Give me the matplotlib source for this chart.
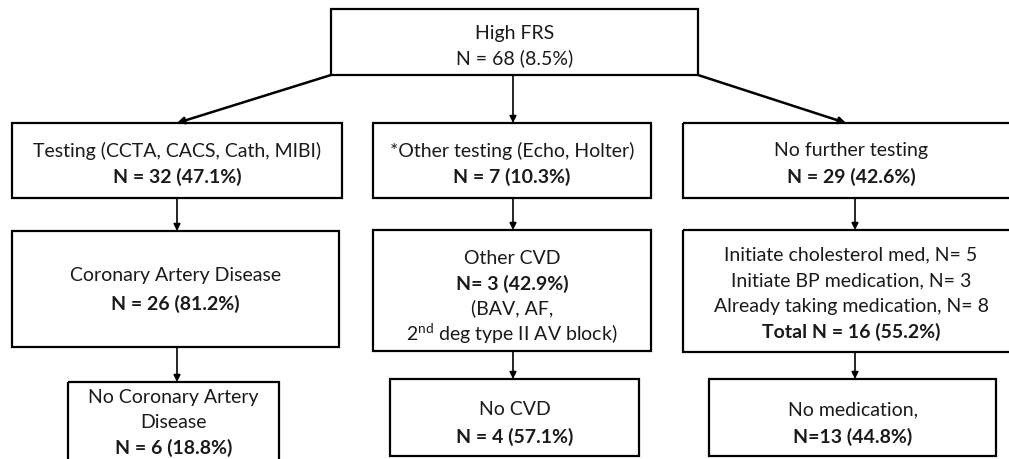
import matplotlib.pyplot as plt
from matplotlib.patches import Rectangle

plt.rcParams['font.family'] = ['Lato', 'DejaVu Sans']
plt.rcParams['mathtext.fontset'] = 'custom'
plt.rcParams['mathtext.rm'] = 'Lato'
plt.rcParams['mathtext.bf'] = 'Lato:bold'

# Box contents: each line is (text, bold)
top_lines = [("High FRS", False), ("N = 68 (8.5%)", False)]

tier2_lines = [
    [("Testing (CCTA, CACS, Cath, MIBI)", False), ("N = 32 (47.1%)", True)],
    [("*Other testing (Echo, Holter)", False), ("N = 7 (10.3%)", True)],
    [("No further testing", False), ("N = 29 (42.6%)", True)],
]

tier3_lines = [
    [("Coronary Artery Disease", False), ("N = 26 (81.2%)", True)],
    [("Other CVD", False), ("N= 3 (42.9%)", True), ("(BAV, AF,", False),
     ("2$^{\\mathrm{nd}}$ deg type II AV block)", False)],
    [("Initiate cholesterol med, N= 5", False), ("Initiate BP medication, N= 3", False),
     ("Already taking medication, N= 8", False), ("Total N = 16 (55.2%)", True)],
]

tier4_lines = [
    [("No Coronary Artery", False), ("Disease", False), ("N = 6 (18.8%)", True)],
    [("No CVD", False), ("N = 4 (57.1%)", True)],
    [("No medication,", False), ("N=13 (44.8%)", True)],
]

# Layout in pixel coordinates (x0, x1, y0, y1, text centre y, line spacing)
top_box = (331, 698, 10, 76, 45.5, 25)
tier2_boxes = [(12, 342, 124, 199, 164, 26),
               (373, 651, 124, 199, 164, 26),
               (683, 1019, 124, 199, 164, 26)]
tier3_boxes = [(12, 339, 232, 348, 290, 28),
               (373, 651, 231, 352, 296, 25),
               (683, 1019, 231, 353, 293.5, 25.7)]
tier4_boxes = [(68, 279, 383, 475, 423, 25),
               (390, 639, 380, 457, 423.5, 27),
               (709, 996, 380, 457, 423.5, 27)]
arrow_x = [177, 513, 855]

fig = plt.figure(figsize=(10.09, 4.6), dpi=100)
ax = fig.add_axes([0, 0, 1, 1])
ax.set_xlim(0, 1009)
ax.set_ylim(460, 0)
ax.axis('off')


def draw_box(box, lines):
    x0, x1, y0, y1, yc, sp = box
    ax.add_patch(Rectangle((x0, y0), x1 - x0, y1 - y0, fill=False,
                           edgecolor='black', lw=1.6))
    n = len(lines)
    for i, (txt, bold) in enumerate(lines):
        y = yc + (i - (n - 1) / 2) * sp
        ax.text((x0 + x1) / 2, y, txt, ha='center', va='center', fontsize=14,
                fontweight='bold' if bold else 'normal', color='#1a1a1a')


def arrow(x0, y0, x1, y1, lw=1.2):
    ax.annotate('', xy=(x1, y1), xytext=(x0, y0),
                arrowprops=dict(arrowstyle='-|>', color='black', lw=lw,
                                mutation_scale=10, shrinkA=0, shrinkB=0))


draw_box(top_box, top_lines)
for b, l in zip(tier2_boxes, tier2_lines):
    draw_box(b, l)
for b, l in zip(tier3_boxes, tier3_lines):
    draw_box(b, l)
for b, l in zip(tier4_boxes, tier4_lines):
    draw_box(b, l)

# arrows from the top box
arrow(top_box[0], top_box[3], arrow_x[0], tier2_boxes[0][2], lw=1.8)
arrow(arrow_x[1], top_box[3], arrow_x[1], tier2_boxes[1][2])
arrow(top_box[1], top_box[3], arrow_x[2] - 9, tier2_boxes[2][2], lw=1.8)

# vertical arrows down each column
for i in range(3):
    arrow(arrow_x[i], tier2_boxes[i][3], arrow_x[i], tier3_boxes[i][2])
    arrow(arrow_x[i], tier3_boxes[i][3], arrow_x[i], tier4_boxes[i][2])

fig.savefig('out.png', dpi=100)
